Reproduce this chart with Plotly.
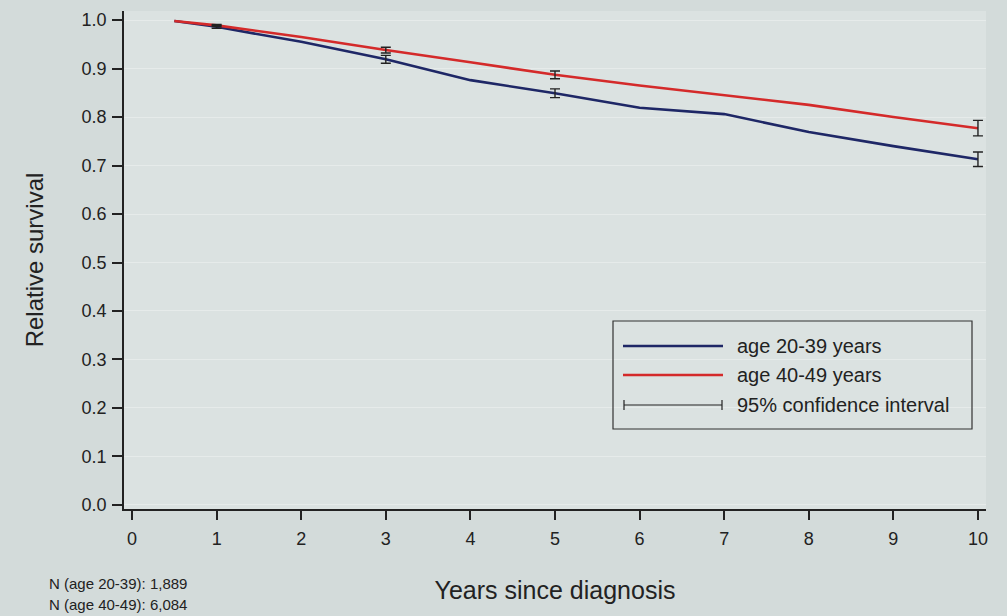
import plotly.graph_objects as go

# ---- data ----
years = [0.5, 1, 2, 3, 4, 5, 6, 7, 8, 9, 10]
surv_20_39 = [0.998, 0.986, 0.955, 0.919, 0.876, 0.849, 0.819, 0.806, 0.769, 0.740, 0.713]
surv_40_49 = [0.998, 0.989, 0.965, 0.938, 0.913, 0.887, 0.865, 0.845, 0.825, 0.800, 0.777]

ci_years = [1, 3, 5, 10]
ci_20_39_val = [0.986, 0.919, 0.849, 0.713]
ci_20_39_err = [0.003, 0.008, 0.009, 0.015]
ci_40_49_val = [0.989, 0.938, 0.887, 0.777]
ci_40_49_err = [0.002, 0.006, 0.008, 0.016]

x_ticks = list(range(0, 11))
y_ticks = [i / 10 for i in range(0, 11)]
y_tick_labels = [f"{v:.1f}" for v in y_ticks]

legend_labels = ["age 20-39 years", "age 40-49 years", "95% confidence interval"]
n_notes = ["N (age 20-39): 1,889", "N (age 40-49): 6,084"]

BLUE = "#1e2766"
RED = "#d42a2a"
DARK = "#222222"
FONT = "Liberation Sans, Arial, sans-serif"

fig = go.Figure()

fig.add_trace(go.Scatter(x=years, y=surv_20_39, mode="lines",
                         line=dict(color=BLUE, width=2.6), showlegend=False))
fig.add_trace(go.Scatter(x=years, y=surv_40_49, mode="lines",
                         line=dict(color=RED, width=2.6), showlegend=False))

for vals, errs in [(ci_20_39_val, ci_20_39_err), (ci_40_49_val, ci_40_49_err)]:
    fig.add_trace(go.Scatter(
        x=ci_years, y=vals, mode="markers",
        marker=dict(size=1, color="rgba(0,0,0,0)"),
        error_y=dict(type="data", array=errs, visible=True,
                     color=DARK, thickness=1.4, width=5),
        showlegend=False, hoverinfo="skip"))

W, H = 1007, 616
L, R, T, B = 124, 21, 11, 107
pw, ph = W - L - R, H - T - B

def px(x):
    return (x - L) / pw

def py(y):
    return (H - B - y) / ph

shapes = []
annotations = []

# legend box
shapes.append(dict(type="rect", xref="paper", yref="paper",
                   x0=px(613), x1=px(972), y0=py(429), y1=py(321),
                   line=dict(color="#333333", width=1.2), fillcolor="rgba(0,0,0,0)"))
rows = [346, 375, 405]
colors = [BLUE, RED]
for i in range(2):
    shapes.append(dict(type="line", xref="paper", yref="paper",
                       x0=px(623), x1=px(723), y0=py(rows[i]), y1=py(rows[i]),
                       line=dict(color=colors[i], width=2.6)))
# CI sample
shapes.append(dict(type="line", xref="paper", yref="paper",
                   x0=px(624), x1=px(722), y0=py(rows[2]), y1=py(rows[2]),
                   line=dict(color=DARK, width=1)))
for xx in (624, 722):
    shapes.append(dict(type="line", xref="paper", yref="paper",
                       x0=px(xx), x1=px(xx), y0=py(rows[2] - 5), y1=py(rows[2] + 5),
                       line=dict(color=DARK, width=1.2)))
for i, lab in enumerate(legend_labels):
    annotations.append(dict(xref="paper", yref="paper", x=px(735), y=py(rows[i]),
                            xanchor="left", yanchor="middle", text=lab, showarrow=False,
                            font=dict(family=FONT, size=20, color="#222222")))

for i, note in enumerate(n_notes):
    annotations.append(dict(xref="paper", yref="paper", x=px(47), y=py(583 + 21 * i),
                            xanchor="left", yanchor="middle", text=note, showarrow=False,
                            font=dict(family=FONT, size=15, color="#222222")))

fig.update_layout(
    width=W, height=H,
    margin=dict(l=L, r=R, t=T, b=B),
    paper_bgcolor="#d3dbda",
    plot_bgcolor="#dbe2e1",
    font=dict(family=FONT, color="#222222"),
    shapes=shapes,
    annotations=annotations,
    xaxis=dict(range=[-0.095, 10.095], tickvals=x_ticks, showgrid=False,
               zeroline=False, showline=True, linecolor=DARK, linewidth=1.6,
               ticks="outside", ticklen=9, tickwidth=1.6, tickcolor=DARK,
               tickfont=dict(size=18), ticklabelstandoff=4,
               title=dict(text="Years since diagnosis", font=dict(size=25), standoff=33)),
    yaxis=dict(range=[-0.0083, 1.0186], tickvals=y_ticks, ticktext=y_tick_labels,
               showgrid=True, gridcolor="#e6ebea", gridwidth=1,
               zeroline=False, showline=True, linecolor=DARK, linewidth=1.6,
               ticks="outside", ticklen=10, tickwidth=1.6, tickcolor=DARK,
               tickfont=dict(size=18), ticklabelstandoff=2,
               title=dict(text="Relative survival", font=dict(size=24), standoff=31)),
)

fig.write_html("out.html", config={"displayModeBar": False},
               post_script="document.body.style.margin='0';document.body.style.background='#d3dbda';")
